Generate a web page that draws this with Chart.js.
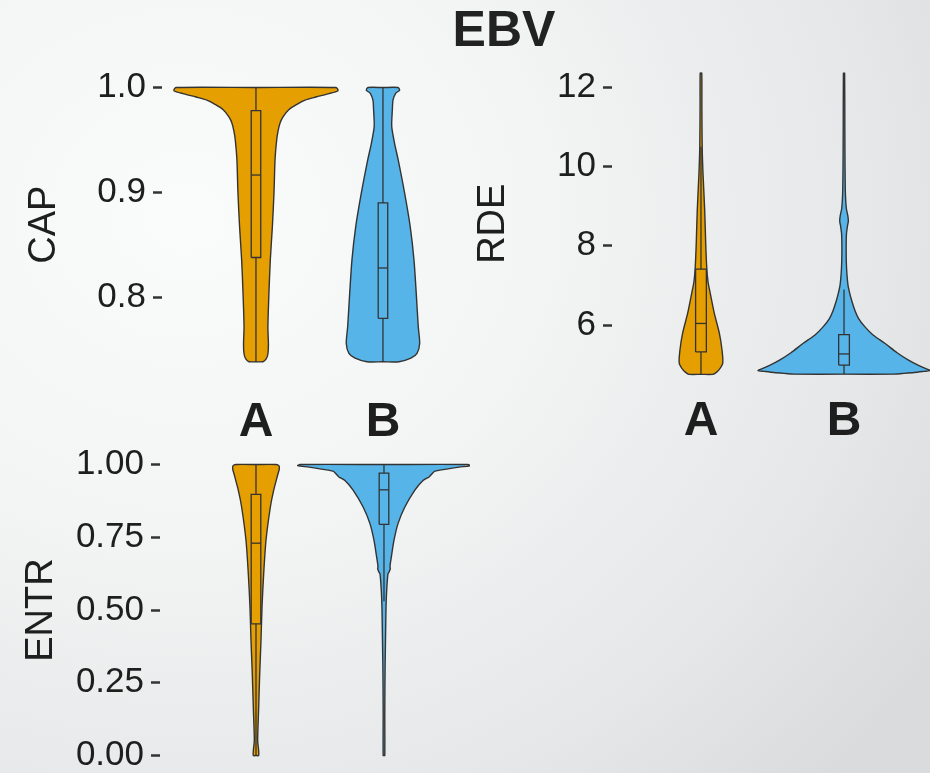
<!DOCTYPE html>
<html>
<head>
<meta charset="utf-8">
<script src="https://cdn.jsdelivr.net/npm/chart.js@4.4.1/dist/chart.umd.min.js"></script>
<style>
html, body { margin: 0; padding: 0; width: 930px; height: 773px; overflow: hidden; }
body { position: relative; background: radial-gradient(ellipse 900px 800px at 20% 28%, #fafbfb 0%, #f3f4f4 40%, #e6e8e9 75%, #d9dbdd 100%); }
#title { position: absolute; left: 504px; top: 4px; transform: translateX(-50%); font: bold 50px/50px 'Liberation Sans', Arial, sans-serif; color: #222; white-space: nowrap; }
canvas { position: absolute; }
</style>
</head>
<body>
<div id="title">EBV</div>
<canvas id="cap" width="470" height="440" style="left:0px;top:0px"></canvas>
<canvas id="rde" width="460" height="440" style="left:470px;top:0px"></canvas>
<canvas id="entr" width="470" height="400" style="left:0px;top:400px"></canvas>
<script>
// ---------------- DATA ----------------
const categories = ['A', 'B'];

// CAP
const capTicks = [0.8, 0.9, 1.0];
const capTickLabels = ['0.8', '0.9', '1.0'];
const capGridA = [1.0, 0.997, 0.994, 0.991, 0.988, 0.984, 0.979, 0.972, 0.966, 0.958, 0.95, 0.931, 0.9, 0.867, 0.836, 0.804, 0.772, 0.755, 0.746, 0.741, 0.7386];
const capDensA = [0.63, 0.646, 0.567, 0.472, 0.386, 0.323, 0.260, 0.213, 0.189, 0.173, 0.163, 0.150, 0.142, 0.129, 0.113, 0.102, 0.094, 0.098, 0.094, 0.079, 0.055];
const capGridB = [1.0, 0.9975, 0.9945, 0.988, 0.979, 0.963, 0.947, 0.931, 0.899, 0.867, 0.836, 0.804, 0.772, 0.756, 0.7466, 0.742, 0.7386];
const capDensB = [0.118, 0.131, 0.100, 0.079, 0.074, 0.069, 0.091, 0.120, 0.171, 0.215, 0.244, 0.262, 0.278, 0.289, 0.268, 0.220, 0.126];
// box stats: [lower whisker, Q1, median, Q3, upper whisker]
const capBoxA = [0.7386, 0.838, 0.9166, 0.978, 1.0];
const capBoxB = [0.7386, 0.780, 0.828, 0.890, 1.0];

// RDE
const rdeTicks = [6, 8, 10, 12];
const rdeTickLabels = ['6', '8', '10', '12'];
const rdeGridA = [12.36, 11.5, 10.5, 9.84, 8.9, 8.07, 7.47, 7.1, 6.8, 6.3, 5.8, 5.37, 5.04, 4.86, 4.78, 4.755];
const rdeDensA = [0.0056, 0.0063, 0.0084, 0.014, 0.026, 0.033, 0.040, 0.049, 0.065, 0.093, 0.128, 0.147, 0.152, 0.124, 0.098, 0.084];
const rdeGridB = [12.36, 11, 10, 9.3, 8.95, 8.75, 8.62, 8.5, 8.3, 8.0, 7.6, 7.3, 7.0, 6.8, 6.6, 6.38, 6.17, 5.96, 5.75, 5.54, 5.3, 5.12, 5.0, 4.9, 4.85, 4.83, 4.80, 4.775, 4.76];
const rdeDensB = [0.0042, 0.0056, 0.0070, 0.0098, 0.016, 0.027, 0.030, 0.024, 0.017, 0.015, 0.016, 0.020, 0.028, 0.040, 0.055, 0.075, 0.101, 0.145, 0.203, 0.285, 0.371, 0.448, 0.510, 0.573, 0.601, 0.559, 0.490, 0.406, 0.350];
const rdeBoxA = [4.755, 5.32, 6.04, 7.41, 10.5];
const rdeBoxB = [4.76, 4.99, 5.27, 5.76, 6.9];

// ENTR
const entrTicks = [0, 0.25, 0.5, 0.75, 1.0];
const entrTickLabels = ['0.00', '0.25', '0.50', '0.75', '1.00'];
const entrGridA = [1.0, 0.995, 0.985, 0.968, 0.911, 0.853, 0.739, 0.624, 0.51, 0.395, 0.281, 0.166, 0.052, 0.02, 0];
const entrDensA = [0.156, 0.180, 0.182, 0.172, 0.138, 0.112, 0.078, 0.060, 0.047, 0.039, 0.029, 0.021, 0.013, 0.020, 0.021];
const entrGridB = [1.0, 0.996, 0.991, 0.985, 0.977, 0.968, 0.957, 0.945, 0.911, 0.853, 0.796, 0.739, 0.681, 0.650, 0.641, 0.630, 0.624, 0.567, 0.51, 0.4, 0.3, 0.15, 0];
const entrDensB = [0.656, 0.674, 0.586, 0.500, 0.398, 0.375, 0.352, 0.305, 0.240, 0.162, 0.109, 0.078, 0.057, 0.047, 0.049, 0.039, 0.031, 0.021, 0.016, 0.012, 0.0086, 0.0063, 0.0063];
const entrBoxA = [0, 0.4525, 0.7296, 0.897, 1.0];
const entrBoxB = [0.53, 0.794, 0.913, 0.970, 1.0];

// ---------------- STYLE ----------------
const FONT = "'Liberation Sans', Arial, Helvetica, sans-serif";
const FILLS = ['#E69F00', '#56B4E9'];
const OUTLINE = '#333333';
const TEXT = '#1e1e1e';
const BOX_HALF = 0.0375;

function violinPoints(grid, dens, c) {
  const n = grid.length;
  const pts = [{x: c, y: grid[0]}];
  for (let i = 0; i < n; i++) pts.push({x: c + dens[i], y: grid[i]});
  pts.push({x: c, y: grid[n - 1]});
  for (let i = n - 1; i >= 0; i--) pts.push({x: c - dens[i], y: grid[i]});
  pts.push({x: c, y: grid[0]});
  return pts;
}

function lineDs(points) {
  return {data: points, showLine: true, fill: false, borderColor: OUTLINE, borderWidth: 1.3,
          pointRadius: 0, tension: 0, clip: false};
}

function makeChart(id, cfg) {
  const datasets = [];
  cfg.boxes.forEach((b, i) => {
    const c = i + 1;
    datasets.push(lineDs([{x: c - BOX_HALF, y: b[1]}, {x: c + BOX_HALF, y: b[1]}, {x: c + BOX_HALF, y: b[3]}, {x: c - BOX_HALF, y: b[3]}, {x: c - BOX_HALF, y: b[1]}]));
    datasets.push(lineDs([{x: c - BOX_HALF, y: b[2]}, {x: c + BOX_HALF, y: b[2]}]));
    datasets.push(lineDs([{x: c, y: b[0]}, {x: c, y: b[1]}]));
    datasets.push(lineDs([{x: c, y: b[3]}, {x: c, y: b[4]}]));
  });
  cfg.violins.forEach((v, i) => {
    datasets.push({data: violinPoints(v[0], v[1], i + 1), showLine: true, fill: 'shape',
      backgroundColor: FILLS[i], borderColor: OUTLINE, borderWidth: 1.4, pointRadius: 0,
      tension: 0.25, clip: false});
  });
  return new Chart(document.getElementById(id), {
    type: 'scatter',
    data: {datasets},
    options: {
      responsive: false, animation: false, events: [],
      layout: {padding: cfg.padding},
      plugins: {legend: {display: false}, tooltip: {enabled: false}, title: {display: false}},
      elements: {point: {radius: 0, hoverRadius: 0}, line: {capBezierPoints: false}},
      scales: {
        x: {
          type: 'linear', min: cfg.xmin, max: cfg.xmax,
          afterFit: s => { s.height = cfg.xh; },
          afterBuildTicks: s => { s.ticks = categories.map((c, i) => ({value: i + 1})); },
          grid: {display: false}, border: {display: false},
          ticks: {display: cfg.showX, padding: cfg.xpad, color: TEXT, maxRotation: 0,
                  font: {family: FONT, size: 48, weight: 'bold'},
                  callback: v => categories[Math.round(v) - 1]}
        },
        y: {
          type: 'linear', min: cfg.ymin, max: cfg.ymax,
          afterFit: s => { s.width = cfg.yw; },
          afterBuildTicks: s => { s.ticks = cfg.ticks.map(v => ({value: v})); },
          grid: {display: true, drawOnChartArea: false, drawTicks: true, tickLength: 9,
                 tickWidth: 2.5, tickColor: OUTLINE},
          border: {display: false},
          ticks: {padding: 7, color: TEXT, font: {family: FONT, size: 35},
                  callback: (v, i) => cfg.tickLabels[i]},
          title: {display: true, text: cfg.title, color: TEXT, padding: {top: cfg.tpad, bottom: 0},
                  font: {family: FONT, size: 38}}
        }
      }
    }
  });
}

makeChart('cap', {
  violins: [[capGridA, capDensA], [capGridB, capDensB]], boxes: [capBoxA, capBoxB],
  ticks: capTicks, tickLabels: capTickLabels, title: 'CAP',
  xmin: 0.26, xmax: 2.646, ymin: 0.7255, ymax: 1.0131,
  padding: {top: 73.8, left: 0, right: 5, bottom: 0}, yw: 162, xh: 64.5, xpad: 10, showX: true, tpad: 22
});
makeChart('rde', {
  violins: [[rdeGridA, rdeDensA], [rdeGridB, rdeDensB]], boxes: [rdeBoxA, rdeBoxB],
  ticks: rdeTicks, tickLabels: rdeTickLabels, title: 'RDE',
  xmin: 0.378, xmax: 2.601, ymin: 4.375, ymax: 12.74,
  padding: {top: 58.1, left: 0, right: 0, bottom: 0}, yw: 142, xh: 50.6, xpad: -4, showX: true, tpad: 1
});
makeChart('entr', {
  violins: [[entrGridA, entrDensA], [entrGridB, entrDensB]], boxes: [entrBoxA, entrBoxB],
  ticks: entrTicks, tickLabels: entrTickLabels, title: 'ENTR',
  xmin: 0.25, xmax: 2.633, ymin: -0.0515, ymax: 1.0515,
  padding: {top: 49.5, left: 0, right: 5, bottom: 0}, yw: 160, xh: 29.5, xpad: 10, showX: false, tpad: 19
});
</script>
</body>
</html>
